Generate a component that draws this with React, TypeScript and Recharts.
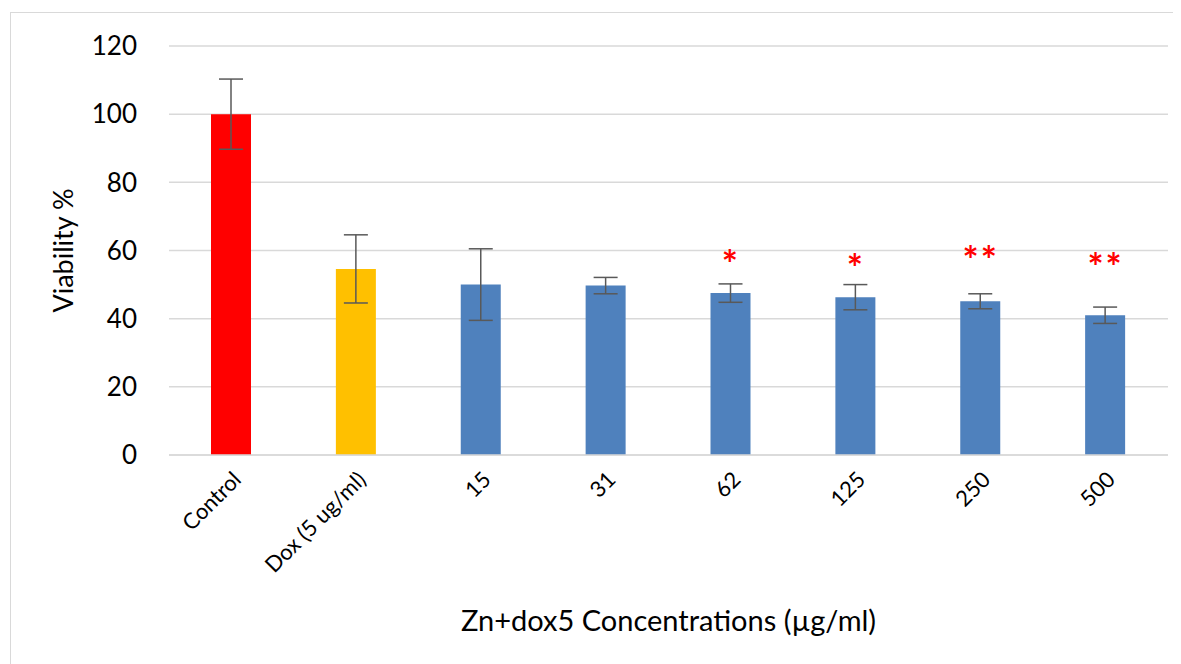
import { ComposedChart, Bar, Cell, ErrorBar, Scatter, XAxis, YAxis, CartesianGrid, Label } from 'recharts';

const categories = ['Control', 'Dox (5 ug/ml)', '15', '31', '62', '125', '250', '500'];
const viability = [100, 54.6, 50, 49.7, 47.5, 46.3, 45.1, 41];
const errors = [10.3, 10, 10.5, 2.4, 2.7, 3.7, 2.2, 2.4];
const stars = ['', '', '', '', '*', '*', '**', '**'];
const starLevel = [null, null, null, null, 59, 57.8, 60.1, 58.2];
const barColors = ['#FF0000', '#FFC000', '#4F81BD', '#4F81BD', '#4F81BD', '#4F81BD', '#4F81BD', '#4F81BD'];
const yTicks = [0, 20, 40, 60, 80, 100, 120];

const data = categories.map((name, i) => ({
  name,
  value: viability[i],
  err: errors[i],
  star: starLevel[i],
  mark: stars[i],
}));

const FONT = 'Lato, "Open Sans", sans-serif';

function StarShape(props: any) {
  const { cx, cy, payload } = props;
  if (cx == null || cy == null || !payload.mark) return null;
  return (
    <text
      x={cx}
      y={cy + 24}
      textAnchor="middle"
      fill="#FF0000"
      fontSize={38}
      fontWeight="bold"
      letterSpacing={2}
      fontFamily={FONT}
    >
      {payload.mark}
    </text>
  );
}

export default function App() {
  return (
    <div style={{ position: 'relative', width: 1173, height: 656, overflow: 'hidden' }}>
      <div
        style={{
          position: 'absolute',
          left: 2,
          top: 4,
          width: 1164,
          height: 700,
          border: '1.5px solid #D9D9D9',
          boxSizing: 'border-box',
        }}
      />
      <div style={{ position: 'absolute', left: 0, top: 0 }}>
        <ComposedChart width={1173} height={656} data={data} margin={{ top: 38, right: 13, left: 0, bottom: 0 }}>
          <CartesianGrid vertical={false} stroke="#D9D9D9" strokeWidth={1.5} />
          <XAxis
            dataKey="name"
            axisLine={{ stroke: '#D9D9D9', strokeWidth: 1.5 }}
            tickLine={false}
            interval={0}
            height={209}
            angle={-45}
            textAnchor="end"
            tick={{ fontSize: 22, fill: '#000', fontFamily: FONT }}
            tickMargin={9}
          >
            <Label
              value="Zn+dox5 Concentrations (µg/ml)"
              position="insideBottom"
              offset={33}
              style={{ fontSize: 29, fill: '#000', fontFamily: FONT }}
            />
          </XAxis>
          <YAxis
            domain={[0, 120]}
            ticks={yTicks}
            width={161}
            axisLine={false}
            tickLine={false}
            tickSize={0}
            tickMargin={32}
            tick={{ fontSize: 26, fill: '#000', fontFamily: FONT }}
          >
            <Label
              value="Viability %"
              angle={-90}
              position="insideLeft"
              offset={55}
              style={{ fontSize: 27, fill: '#000', fontFamily: FONT, textAnchor: 'middle' }}
            />
          </YAxis>
          <Bar dataKey="value" barSize={40} isAnimationActive={false}>
            {data.map((d, i) => (
              <Cell key={d.name} fill={barColors[i]} />
            ))}
            <ErrorBar dataKey="err" width={12} stroke="#595959" strokeWidth={1.5} />
          </Bar>
          <Scatter dataKey="star" shape={<StarShape />} isAnimationActive={false} />
        </ComposedChart>
      </div>
    </div>
  );
}
